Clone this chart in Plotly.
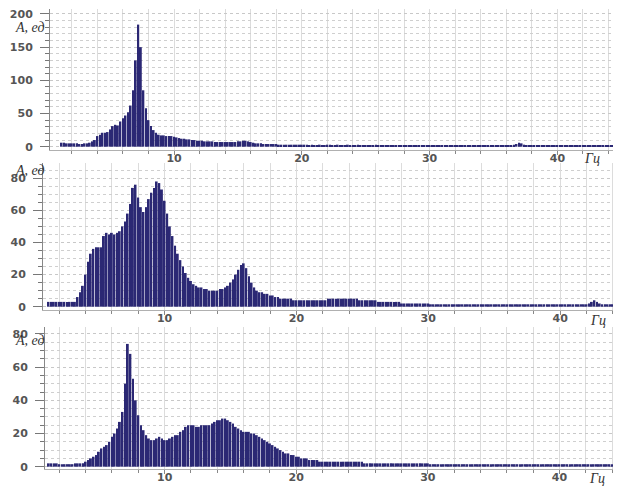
import numpy as np
import plotly.graph_objects as go

# frequency bins (Hz), 0.2 Hz step from 1.2 to 44.4
freq = np.round(np.arange(1.2, 44.41, 0.2), 1)

# --- top spectrum (A, ед) ---
top_1_10 = [6, 6, 5, 5, 5,  5, 5, 4, 4, 5,  5, 6, 8, 10, 16,  18, 21, 21, 22, 26,
            31, 33, 32, 38, 43,  47, 52, 62, 85, 130,  184, 150, 85, 58, 40,
            31, 25, 21, 18, 17,  17, 16, 16, 16, 15]
top_10_20 = [14, 13, 12, 12, 11,  11, 10, 10, 9, 9,  9, 8, 8, 8, 8,  7, 7, 7, 7, 7,
             7, 7, 7, 7, 8,  8, 9, 9, 8, 7,  6, 5, 5, 5, 4,  4, 4, 4, 4, 4,
             3, 3, 3, 3, 3,  3, 3, 3, 3, 3]
top_20_30 = [3, 3, 2, 3, 2,  2, 3, 2, 2, 3,  3, 2, 2, 3, 2,  2, 2, 3, 2, 2,
             2, 3, 2, 2, 2,  2, 2, 2, 3, 2,  2, 2, 2, 2, 2,  2, 2, 2, 2, 2,
             2, 2, 2, 2, 2,  2, 2, 2, 2, 2]
top_30_445 = [2, 2, 2, 2, 2,  2, 2, 2, 2, 2,  2, 2, 2, 2, 2,  2, 2, 2, 2, 2,
              2, 2, 2, 2, 2,  2, 2, 2, 2, 2,  2, 2, 3, 4, 6,  5, 3, 2, 2, 2,
              2, 2, 2, 2, 2,  2, 2, 2, 2, 2,  2, 2, 2, 2, 2,  2, 2, 2, 2, 2,
              2, 2, 2, 2, 2,  2, 2, 2, 2, 2,  2, 2]
top_vals = top_1_10 + top_10_20 + top_20_30 + top_30_445

# --- middle spectrum ---
mid_1_10 = [3, 3, 3, 3, 3,  3, 3, 3, 3, 3,  3, 6, 9, 13, 20,  28, 33, 36, 37, 37,
            37, 44, 46, 45, 46,  45, 46, 47, 50, 53,  58, 64, 74, 76, 68,
            62, 59, 62, 67, 71,  74, 78, 77, 73, 66]
mid_10_20 = [58, 50, 44, 38, 33,  29, 25, 21, 18, 16,  14, 13, 12, 12, 11,
             11, 10, 10, 10, 10,  11, 11, 12, 13, 15,  17, 20, 23, 26, 27,
             24, 19, 15, 12, 10,  9, 9, 8, 8, 7,  7, 6, 6, 5, 5,  5, 5, 5, 4, 4]
mid_20_30 = [4, 4, 4, 4, 4,  4, 4, 4, 4, 4,  4, 5, 5, 5, 5,  5, 5, 5, 5, 5,
             5, 5, 5, 4, 4,  4, 4, 4, 4, 4,  3, 3, 3, 3, 3,  3, 3, 3, 3, 2,
             2, 2, 2, 2, 2,  2, 2, 2, 2, 2]
mid_30_445 = [1.5, 1.5, 1.5, 1.5, 1.5,  1.5, 1.5, 1.5, 1.5, 1.5,  1.5, 1.5, 1.5, 1.5, 1.5,
              1.5, 1.5, 1.5, 1.5, 1.5,  1.5, 1.5, 1.5, 1.5, 1.5,  1.5, 1.5, 1.5, 1.5, 1.5,
              1.5, 1.5, 1.5, 1.5, 1.5,  1.5, 1.5, 1.5, 1.5, 1.5,  1.5, 1.5, 1.5, 1.5, 1.5,
              1.5, 1.5, 1.5, 1.5, 1.5,  1.5, 1.5, 1.5, 1.5, 1.5,  1.5, 1.5, 1.5, 1.5, 1.5,
              2, 3, 4, 3, 2,  1.5, 1.5, 1.5, 1.5, 1.5,  1.5, 1.5]
mid_vals = mid_1_10 + mid_10_20 + mid_20_30 + mid_30_445

# --- bottom spectrum ---
bot_1_10 = [2, 2, 2, 2, 1.5,  1.5, 1.5, 1.5, 1.5, 1.5,  2, 2, 2, 2, 3,  4, 5, 6, 7, 9,
            11, 12, 13, 15, 18,  20, 23, 27, 33, 50,  74, 68, 53, 40, 31,
            25, 22, 19, 17, 16,  16, 17, 18, 17, 16]
bot_10_20 = [16, 17, 18, 19, 19,  21, 22, 24, 25, 25,  25, 24, 24, 25, 25,
             25, 25, 26, 27, 28,  28, 29, 29, 28, 27,  26, 24, 23, 22, 21,
             21, 21, 20, 20, 19,  18, 17, 16, 15, 14,  13, 12, 11, 10, 9,  8, 8, 7, 7, 6]
bot_20_30 = [6, 5, 5, 5, 4,  4, 4, 4, 3, 3,  3, 3, 3, 3, 3,  3, 3, 3, 3, 3,
             3, 3, 3, 3, 3,  2, 2, 2, 2, 2,  2, 2, 2, 2, 2,  2, 2, 2, 2, 2,
             2, 2, 2, 2, 2,  2, 2, 2, 2, 2]
bot_30_445 = [1.5, 1.5, 1.5, 1.5, 1.5,  1.5, 1.5, 1.5, 1.5, 1.5,
              1.5, 1.5, 1.5, 1.5, 1.5,  1.5, 1.5, 1.5, 1.5, 1.5,
              1.5, 1.5, 1.5, 1.5, 1.5,  1.5, 1.5, 1.5, 1.5, 1.5,
              1.5, 1.5, 1.5, 1.5, 1.5,  1.5, 1.5, 1.5, 1.5, 1.5,
              1.5, 1.5, 1.5, 1.5, 1.5,  1.5, 1.5, 1.5, 1.5, 1.5,
              1.5, 1.5, 1.5, 1.5, 1.5,  1.5, 1.5, 1.5, 1.5, 1.5,
              1.5, 1.5, 1.5, 1.5, 1.5,  1.5, 1.5, 1.5, 1.5, 1.5,  1.5, 1.5]
bot_vals = bot_1_10 + bot_10_20 + bot_20_30 + bot_30_445

x_ticks = [10, 20, 30, 40]
y_label = "<i>A, ед</i>"
x_label = "<i>Гц</i>"

# the page body has an 8px margin; the figure is sized to fill the rest
OX, OY = 8, 8
W, H = 621 - OX, 486 - OY
BAR = "#2b2874"
TICKFONT = dict(family="DejaVu Sans", size=11, color="#555555", weight="bold")


def px(x):
    return (x - OX) / W


def py(y):
    return 1 - (y - OY) / H


panels = [
    # values, x-domain px, y-domain px (top,bottom), xrange, yrange, major dy, minor dy
    (top_vals, (50, 620), (9, 150), [0.29, 44.9], [-5, 207.5], 50, 10),
    (mid_vals, (43, 620), (163, 310), [0.78, 44.54], [-2.06, 89.5], 20, 5),
    (bot_vals, (45, 620), (327, 469), [0.91, 44.6], [-1.4, 84.2], 20, 5),
]

fig = go.Figure()
layout = dict(width=W, height=H, margin=dict(l=0, r=0, t=0, b=0),
              paper_bgcolor="white", plot_bgcolor="white", showlegend=False,
              bargap=0.28)

for i, (vals, xd, yd, xr, yr, mdy, ndy) in enumerate(panels, start=1):
    n = len(freq)
    assert len(vals) == n, (i, len(vals), n)
    xa = "x" if i == 1 else f"x{i}"
    ya = "y" if i == 1 else f"y{i}"
    fig.add_trace(go.Bar(x=freq, y=vals, xaxis=xa, yaxis=ya,
                         marker=dict(color=BAR, line=dict(width=0))))
    xkey = "xaxis" if i == 1 else f"xaxis{i}"
    ykey = "yaxis" if i == 1 else f"yaxis{i}"
    layout[xkey] = dict(
        domain=[max(0, px(xd[0])), min(1, px(xd[1]))], range=xr, anchor=ya,
        automargin=False, ticklabeloverflow="allow",
        tickvals=x_ticks, ticktext=[str(v) for v in x_ticks],
        ticks="outside", ticklen=4, tickcolor="#888", tickfont=TICKFONT,
        ticklabelstandoff=-6,
        showgrid=True, gridcolor="#dcdcdc", gridwidth=1,
        minor=dict(dtick=2, tick0=0, ticks="outside", ticklen=3,
                   tickcolor="#888", showgrid=True, gridcolor="#dcdcdc"),
        showline=True, linecolor="#b0b0b0", linewidth=1, zeroline=False,
    )
    layout[ykey] = dict(
        domain=[max(0, py(yd[1])), min(1, py(yd[0]))], range=yr, anchor=xa,
        automargin=False, ticklabeloverflow="allow",
        dtick=mdy, tick0=0, ticks="outside", ticklen=9, tickcolor="#777",
        tickfont=TICKFONT, ticklabelstandoff=5,
        showgrid=True, gridcolor="#c8c8c8", griddash="dot", gridwidth=1,
        minor=dict(dtick=ndy, tick0=0, ticks="outside", ticklen=4,
                   tickcolor="#777", showgrid=True, gridcolor="#cfcfcf",
                   griddash="dot"),
        showline=True, linecolor="#888", linewidth=1, zeroline=False,
    )

fig.update_layout(**layout)

ann_font = dict(family="Liberation Serif", size=14, color="#333333")
ann = [
    (30, 27, y_label), (30, 171, y_label), (30, 340, y_label),
    (592, 159, x_label), (598, 320, x_label), (597, 478, x_label),
]
for x, y, t in ann:
    fig.add_annotation(x=px(x), y=py(y), xref="paper", yref="paper", text=t,
                       showarrow=False, font=ann_font, xanchor="center",
                       yanchor="middle", bgcolor="rgba(0,0,0,0)")

fig.write_html("out.html")
